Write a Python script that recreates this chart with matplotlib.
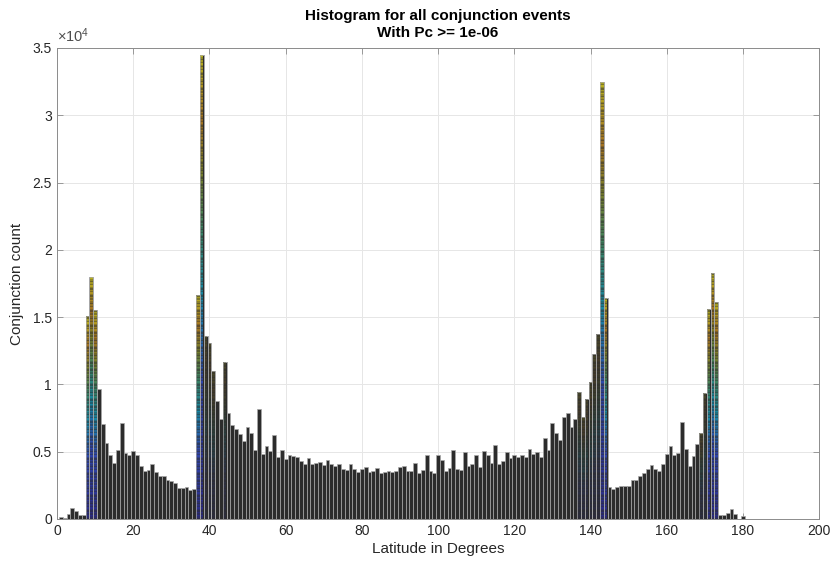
import numpy as np
import matplotlib.pyplot as plt
from matplotlib.colors import LinearSegmentedColormap

plt.rcParams['font.family'] = ['Liberation Sans', 'DejaVu Sans']
plt.rcParams['mathtext.fontset'] = 'custom'
plt.rcParams['mathtext.rm'] = 'Liberation Sans'
plt.rcParams['mathtext.it'] = 'Liberation Sans:italic'

# one-degree bins centred on 1..180
latitude_bins = np.arange(1, 181)
conjunction_counts = [
    150, 40, 390, 830, 560, 330, 330, 15050, 18000, 15540,
    9670, 7070, 5660, 4720, 4170, 5090, 7150, 4890, 4720, 5015,
    4790, 3970, 3600, 3650, 4100, 3480, 3230, 3160, 2860, 2790,
    2690, 2320, 2320, 2410, 2170, 2220, 16680, 34500, 13560, 13090,
    10980, 8750, 7440, 11650, 7890, 6950, 6700, 6280, 5780, 6870,
    6400, 5160, 8140, 4840, 5390, 5040, 6250, 4640, 5140, 4470,
    4790, 4690, 4640, 4300, 4100, 4500, 4100, 4150, 4200, 3980,
    4400, 4050, 3900, 4050, 3750, 3650, 4050, 3730, 3500, 3700,
    3850, 3500, 3550, 3780, 3400, 3500, 3550, 3500, 3550, 3850,
    3950, 3600, 3550, 4150, 3400, 3650, 4720, 3550, 3450, 4740,
    4400, 3550, 3800, 5090, 3680, 3650, 4990, 3920, 4100, 4770,
    3850, 5070, 4740, 4150, 5510, 4100, 4320, 5010, 4550, 4770,
    4590, 4770, 4620, 5210, 4840, 4990, 4590, 6030, 5160, 7120,
    6380, 5900, 7590, 7910, 6820, 7400, 9400, 7570, 8930, 10170,
    12270, 13710, 32450, 16430, 2370, 2240, 2370, 2460, 2460, 2480,
    2910, 2910, 3180, 3400, 3730, 4000, 3700, 3600, 4050, 4840,
    5410, 4770, 4920, 7240, 5210, 3930, 4670, 5590, 6380, 9350,
    15570, 18300, 16160, 260, 330, 460, 730, 390, 0, 190,
]

# bins drawn as stacked coloured segments (strong) or lightly tinted
strong_bins = [8, 9, 10, 37, 38, 143, 144, 171, 172, 173]
light_bins = [39, 40, 41, 44, 137, 138, 139, 140, 141, 142, 169, 170]

cmap = LinearSegmentedColormap.from_list('stack', [
    (0.00, '#2a2a8c'),
    (0.30, '#3048b8'),
    (0.48, '#1590b0'),
    (0.62, '#3a8a6a'),
    (0.75, '#80852a'),
    (0.86, '#b07a20'),
    (1.00, '#c8c020'),
])
dark = np.array([0.17, 0.17, 0.17])
edge = '#a8a8a8'

fig = plt.figure(figsize=(8.33, 5.61), dpi=100)
ax = fig.add_axes([0.0684, 0.0749, 0.915, 0.8396])

ax.bar(latitude_bins, conjunction_counts, width=1.0, color='#2c2c2c',
       edgecolor=edge, linewidth=0.5, zorder=2)

seg = 110.0
for b in strong_bins + light_bins:
    h = conjunction_counts[b - 1]
    strength = 0.9 if b in strong_bins else 0.18
    n = int(h // seg)
    bottoms = np.arange(n) * seg
    fr = (bottoms + seg / 2) / h
    stripe = 0.45 + 0.55 * ((np.arange(n) * 7) % 5) / 4.0
    cols = []
    for f, s in zip(fr, stripe):
        c = np.array(cmap(f)[:3])
        w = strength * s
        cols.append(tuple(dark * (1 - w) + c * w))
    ax.bar([b] * n, [seg] * n, bottom=bottoms, width=0.86, color=cols,
           linewidth=0, zorder=3)
    ax.bar([b], [h - n * seg], bottom=[n * seg], width=0.86,
           color=[cols[-1] if cols else dark], linewidth=0, zorder=3)
    ax.bar([b], [h], width=1.0, fill=False, edgecolor=edge,
           linewidth=0.5, zorder=4)

ax.set_xlim(0, 200)
ax.set_ylim(0, 35000)
ax.set_xticks(np.arange(0, 201, 20))
yt = np.arange(0, 35001, 5000)
ax.set_yticks(yt)
ax.set_yticklabels(['0', '0.5', '1', '1.5', '2', '2.5', '3', '3.5'])
ax.text(0.0, 1.006, r'$\times10^{4}$', transform=ax.transAxes, fontsize=10.5,
        color='#4d4d4d', ha='left', va='bottom')

ax.grid(True, color='#e6e6e6', linewidth=0.7, zorder=0)
ax.set_axisbelow(True)
for sp in ax.spines.values():
    sp.set_color('#8c8c8c')
    sp.set_linewidth(0.7)
ax.tick_params(direction='in', length=4, width=0.6, colors='#8c8c8c',
               labelcolor='#262626', labelsize=10, top=True, right=True,
               labeltop=False, labelright=False)

ax.set_xlabel('Latitude in Degrees', fontsize=11, color='#262626', labelpad=3)
ax.set_ylabel('Conjunction count', fontsize=11, color='#262626', labelpad=6)
ax.set_title('Histogram for all conjunction events\nWith Pc >= 1e-06',
             fontsize=11, fontweight='bold', color='#000000', pad=8,
             linespacing=1.25)

fig.savefig('out.png', dpi=100)
